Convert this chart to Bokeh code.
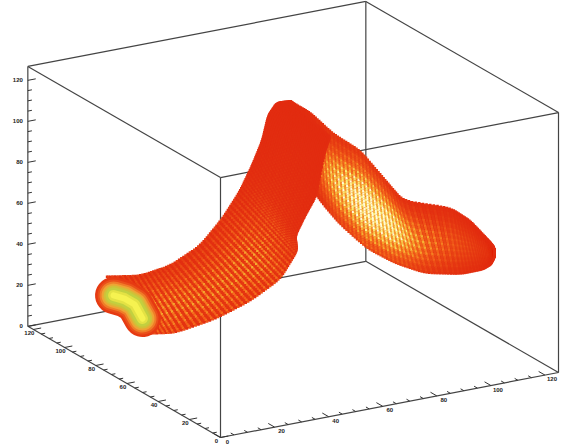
import numpy as np
from bokeh.plotting import figure
from bokeh.models import Range1d, ColumnDataSource
from bokeh.core.properties import value
from bokeh.embed import file_html
from bokeh.resources import INLINE

# axis extents and ticks (data units)
x_max, y_max, z_max = 125.0, 123.5, 126.8
ticks_major = [0, 20, 40, 60, 80, 100, 120]
ticks_minor = [t for t in range(0, 125, 5) if t % 20]
tick_labels = ["0", "20", "40", "60", "80", "100", "120"]
tube_depth = 93.0

# tube cross-section edges (x, z at tube_depth)
left_top_x = [10.9, 24.0, 35.0, 46.1, 54.3, 60.9, 65.3, 69.1, 71.3, 74.5, 80.0]
left_top_z = [34.8, 31.9, 34.0, 41.0, 52.1, 64.0, 75.1, 86.4, 98.0, 103.5, 103.0]
left_bot_x = [25.0, 36.9, 51.7, 64.6, 75.7, 82.0, 81.3, 84.9, 89.0, 92.3, 94.2]
left_bot_z = [3.5, 1.0, 4.0, 9.5, 17.4, 29.4, 36.9, 45.8, 54.5, 75.6, 82.4]
left_heat = [0.24, 0.24, 0.24, 0.24, 0.26, 0.12, 0.04, 0.02, 0.01, 0.0, 0.0]

right_top_x = [79.4, 86.8, 95.3, 105.3, 113.8, 121.1, 138.5, 145.9, 152.5, 154.6, 155.0]
right_top_z = [103.0, 95.6, 83.1, 72.3, 57.0, 43.9, 36.0, 27.9, 17.0, 13.0, 10.5]
right_bot_x = [84.9, 89.7, 97.8, 107.8, 118.2, 129.3, 142.3, 150.4, 153.5, 154.8, 155.0]
right_bot_z = [67.7, 53.3, 38.6, 24.3, 14.4, 6.7, 2.9, 3.0, 4.6, 7.5, 10.0]
right_heat = [0.0, 0.12, 0.62, 1.0, 0.85, 0.40, 0.16, 0.08, 0.04, 0.0, 0.0]

cap_x = [14.1, 18.2, 21.9, 24.8]
cap_z = [24.9, 22.3, 18.5, 10.9]
cap_widths = [37, 32, 28, 24, 20, 16, 11, 6]
cap_colors = ["#e63a12", "#ea501a", "#f07c28", "#eea434", "#d0c038", "#c2d040", "#e4e244", "#f6f250"]


def proj(x, y, z):
    x, y, z = np.asarray(x, float), np.asarray(y, float), np.asarray(z, float)
    return 220 + 2.704 * x - 1.56 * y, 437 - 0.52 * x - 0.90 * y - 2.05 * z


stops = np.array([0, 0.3, 0.55, 0.8, 1.0])
r_c = np.array([226, 244, 246, 250, 255])
g_c = np.array([44, 104, 180, 236, 252])
b_c = np.array([16, 28, 50, 120, 214])


def heat_colors(h):
    h = np.clip(h, 0, 1)
    r = np.interp(h, stops, r_c).astype(int)
    g = np.interp(h, stops, g_c).astype(int)
    b = np.interp(h, stops, b_c).astype(int)
    return ["#%02x%02x%02x" % c for c in zip(r, g, b)]


def smooth(a):
    return np.convolve(np.r_[[a[0]] * 3, a, [a[-1]] * 3], np.ones(7) / 7, "valid")


def draw_tube(p, tx, tz, bx, bz, heat, n_s, n_t, centre, spread, speck):
    k = np.arange(len(tx))
    s = np.linspace(0, len(tx) - 1, n_s)
    ut, vt = proj(np.interp(s, k, tx), tube_depth, np.interp(s, k, tz))
    ub, vb = proj(np.interp(s, k, bx), tube_depth, np.interp(s, k, bz))
    ut, vt, ub, vb = map(smooth, (ut, vt, ub, vb))
    hs = smooth(np.interp(s, k, heat))
    p.patch(np.r_[ut, ub[::-1]], np.r_[vt, vb[::-1]], fill_color="#e42e10", line_color="#e42e10", line_width=1)
    t = np.linspace(0, 1, n_t)
    ii, jj = np.meshgrid(np.arange(n_s), np.arange(n_t), indexing="ij")
    T = t[jj]
    U = ut[ii] + (ub[ii] - ut[ii]) * T
    V = vt[ii] + (vb[ii] - vt[ii]) * T
    prof = np.exp(-(((T - centre) / spread) ** 2))
    pat = 1 - speck + 2 * speck * (ii % 2)
    pat = pat * (1 + 0.22 * np.where(jj % 3 == 0, 1, -0.5))
    H = hs[ii] * prof * pat
    src = ColumnDataSource(dict(u=U.ravel(), v=V.ravel(), c=heat_colors(H.ravel())))
    p.scatter("u", "v", source=src, marker="square", size=2.5, fill_color="c", line_color=None)


p = figure(width=566, height=446, output_backend="svg", toolbar_location=None,
           x_range=Range1d(0, 566), y_range=Range1d(446, 0), min_border=0,
           x_axis_type=None, y_axis_type=None, outline_line_color=None)
p.grid.visible = False
p.styles = {"position": "absolute", "left": "0px", "top": "0px"}

# box edges
X = [0, x_max]
Y = [0, y_max]
Z = [0, z_max]
edges = []
for y in Y:
    for z in Z:
        edges.append(((0, y, z), (x_max, y, z)))
for x in X:
    for z in Z:
        edges.append(((x, 0, z), (x, y_max, z)))
for x in X:
    for y in Y:
        edges.append(((x, y, 0), (x, y, z_max)))
xs, ys = [], []
for a, b in edges:
    ua, va = proj(*a)
    ub, vb = proj(*b)
    xs.append([float(ua), float(ub)])
    ys.append([float(va), float(vb)])
p.multi_line(xs, ys, line_color="#444444", line_width=1.2)

# ticks
tx, ty = [], []


def add_tick(a, b):
    ua, va = proj(*a)
    ub, vb = proj(*b)
    tx.append([float(ua), float(ub)])
    ty.append([float(va), float(vb)])


for ts, ln_xy, ln_z in ((ticks_major, 2.9, 3.9), (ticks_minor, 1.5, 2.0)):
    for t in ts:
        add_tick((t, 0, 0), (t, ln_xy * 1.4, 0))
        add_tick((0, t, 0), (ln_xy, t, 0))
        add_tick((0, y_max, t), (ln_z * 0.75, y_max, t))
p.multi_line(tx, ty, line_color="#333333", line_width=1)

# tick labels
f = value("Liberation Sans")
zeros = np.zeros(len(ticks_major))
ux, vx = proj(ticks_major, zeros, zeros)
p.text(ux + 7, vx + 4, text=tick_labels, text_font=f, text_font_size="6px", text_font_style="bold",
       text_align="center", text_baseline="middle", text_color="#222222")
uy, vy = proj(zeros, ticks_major, zeros)
p.text(uy - 4, vy + 3.5, text=tick_labels, text_font=f, text_font_size="6px", text_font_style="bold",
       text_align="center", text_baseline="middle", text_color="#222222")
uz, vz = proj(zeros, np.full(len(ticks_major), y_max), ticks_major)
p.text(uz - 5, vz, text=tick_labels, text_font=f, text_font_size="6px", text_font_style="bold",
       text_align="right", text_baseline="middle", text_color="#222222")

# tube
draw_tube(p, right_top_x, right_top_z, right_bot_x, right_bot_z, right_heat, 130, 38, 0.55, 0.34, 0.3)
draw_tube(p, left_top_x, left_top_z, left_bot_x, left_bot_z, left_heat, 140, 32, 0.62, 0.5, 0.75)

# open end of the tube
cu, cv = proj(cap_x, tube_depth, cap_z)
for w, c in zip(cap_widths, cap_colors):
    p.line(cu, cv, line_color=c, line_width=w, line_cap="round", line_join="round")

open("out.html", "w").write(file_html(p, INLINE))
